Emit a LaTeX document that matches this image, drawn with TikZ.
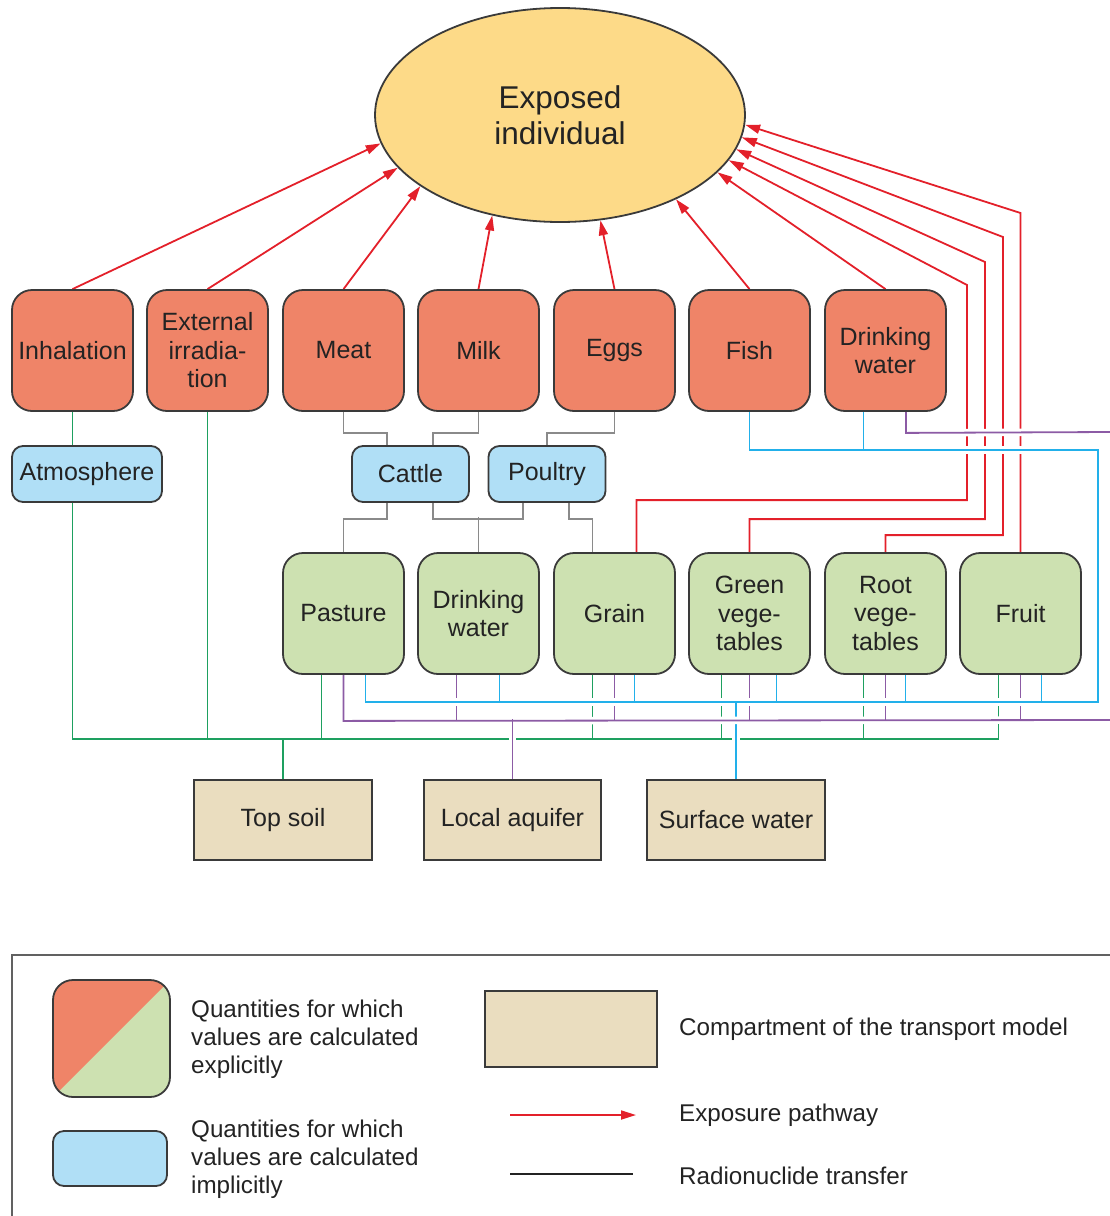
\documentclass[tikz,border=0pt]{standalone}
\usepackage{fontspec}
\setmainfont{Liberation Sans}
\usetikzlibrary{arrows.meta,shapes.geometric}
\definecolor{ellfill}{HTML}{FDDA88}
\definecolor{orfill}{HTML}{EF8468}
\definecolor{blfill}{HTML}{B0DFF6}
\definecolor{grfill}{HTML}{CDE1B1}
\definecolor{tanfill}{HTML}{EADDBF}
\definecolor{bord}{HTML}{3A3A3A}
\definecolor{txt}{HTML}{232323}
\definecolor{redl}{HTML}{E3202A}
\definecolor{grnl}{HTML}{1EA060}
\definecolor{purl}{HTML}{8C5BA5}
\definecolor{blul}{HTML}{22B0EA}
\definecolor{gryl}{HTML}{8A8A8A}
\pgfdeclarelayer{background}
\pgfsetlayers{background,main}
\tikzset{
  boxbase/.style={draw=bord, line width=1.8pt, text=txt, inner sep=0pt, align=center,
    font=\fontsize{25}{28.5}\selectfont},
  bigbox/.style={boxbase, rectangle, rounded corners=20pt, minimum width=121pt, minimum height=121pt},
  explbox/.style={bigbox, fill=orfill},
  cropbox/.style={bigbox, fill=grfill},
  implbox/.style={boxbase, rectangle, rounded corners=11pt, minimum height=56pt, fill=blfill},
  compbox/.style={boxbase, rectangle, fill=tanfill, minimum width=178pt, minimum height=80pt},
  ellnode/.style={boxbase, ellipse, fill=ellfill, minimum width=370pt, minimum height=214pt,
    font=\fontsize{31.5}{36}\selectfont},
  pathw/.style={draw=redl, line width=1.8pt, -{Triangle[length=15pt,width=9pt]}},
  gryline/.style={draw=gryl, line width=1.8pt},
  grnline/.style={draw=grnl, line width=1.8pt},
  purline/.style={draw=purl, line width=1.8pt},
  bluline/.style={draw=blul, line width=1.8pt},
  halo/.style={draw=white, line width=7.5pt},
  legtxt/.style={text=txt, inner sep=0pt, align=left, font=\fontsize{24.2}{28}\selectfont},
  splitbox/.style={boxbase, rectangle, rounded corners=20pt, fill=grfill,
    minimum width=117pt, minimum height=117pt,
    path picture={\fill[orfill, sharp corners] (path picture bounding box.north west) --
      (path picture bounding box.north east) -- (path picture bounding box.south west) -- cycle;}},
}
\newcommand\purplenet[1]{%
  \draw[#1] ([xshift=20.5pt]dw.south) -- ++(0,21) -- (pE1);
  \draw[#1] (pasture.south) -- ++(0,46) -- (pE2);
  \draw[#1] ([xshift=-22pt]dwg.south) -- ++(0,46);
  \draw[#1] (grain.south) -- ++(0,46);
  \draw[#1] (gveg.south) -- ++(0,46);
  \draw[#1] (rveg.south) -- ++(0,46);
  \draw[#1] (fruit.south) -- ++(0,46);
  \draw[#1] (aquifer.north) -- ++(0,-60);
}
\newcommand\bluenet[1]{%
  \draw[#1] (fish.south) |- (1098,450) -- (1098,702) -| ([xshift=22pt]pasture.south);
  \draw[#1] ([xshift=-22pt]dw.south) -- ++(0,39);
  \draw[#1] ([xshift=21pt]dwg.south) -- ++(0,28);
  \draw[#1] ([xshift=20pt]grain.south) -- ++(0,28);
  \draw[#1] ([xshift=27pt]gveg.south) -- ++(0,28);
  \draw[#1] ([xshift=20pt]rveg.south) -- ++(0,28);
  \draw[#1] ([xshift=21pt]fruit.south) -- ++(0,28);
  \draw[#1] (sw.north) ++(0,-78) -- ++(0,9);
}
\begin{document}
\begin{tikzpicture}[x=1pt,y=-1pt]
\useasboundingbox (0,0) rectangle (1110,1216);
% central node
\node[ellnode] (ell) at (560,115) {Exposed\\individual};
% exposure pathways
\node[explbox] (inh)  at (72.5,350.5)  {Inhalation};
\node[explbox] (ext)  at (207.5,350.5) {External\\irradia-\\tion};
\node[explbox] (meat) at (343.5,350.5) {Meat};
\node[explbox] (milk) at (478.5,350.5) {Milk};
\node[explbox] (eggs) at (614.5,350.5) {Eggs};
\node[explbox] (fish) at (749.5,350.5) {Fish};
\node[explbox] (dw)   at (885.5,350.5) {Drinking\\water};
% implicit
\node[implbox, minimum width=150pt] (atm)     at (87,474)    {Atmosphere};
\node[implbox, minimum width=117pt] (cattle)  at (410.5,474) {Cattle};
\node[implbox, minimum width=117pt] (poultry) at (547,474)   {Poultry};
% crops
\node[cropbox] (pasture) at (343.5,613.5)  {Pasture};
\node[cropbox] (dwg)     at (478.5,613.5)  {Drinking\\water};
\node[cropbox] (grain)   at (614.5,613.5)  {Grain};
\node[cropbox] (gveg)    at (749.5,613.5)  {Green\\vege-\\tables};
\node[cropbox] (rveg)    at (885.5,613.5)  {Root\\vege-\\tables};
\node[cropbox] (fruit)   at (1020.5,613.5) {Fruit};
% compartments
\node[compbox] (topsoil) at (283,820)   {Top soil};
\node[compbox, minimum width=177pt] (aquifer) at (512.5,820) {Local aquifer};
\node[compbox] (sw)      at (736,820)   {Surface water};
\coordinate (pE1) at (1110,432);
\coordinate (pE2) at (1110,720);

\begin{pgfonlayer}{background}
% exposure pathways into the individual
\draw[pathw] (inh.north)  -- (ell.189.6);
\draw[pathw] (ext.north)  -- (ell.198.0);
\draw[pathw] (meat.north) -- (ell.207.9);
\draw[pathw] (milk.north) -- (ell.236.0);
\draw[pathw] (eggs.north) -- (ell.291.9);
\draw[pathw] (fish.north) -- (ell.324.5);
\draw[pathw] (dw.north)   -- (ell.340.4);
\draw[pathw] ([xshift=22pt]grain.north) -- ++(0,-52) -| (967,285) -- (ell.345.1);
\draw[pathw] (gveg.north) -- ++(0,-33) -| (985,262) -- (ell.349.5);
\draw[pathw] (rveg.north) -- ++(0,-17) -| (1003,237) -- (ell.353.5);
\draw[pathw] (fruit.north) -- (fruit.north |- 0,213) -- (ell.357.8);
% livestock transfer
\draw[gryline] (meat.south) -- ++(0,21) -| ([xshift=-23.5pt]cattle.north);
\draw[gryline] (milk.south) -- ++(0,21) -| ([xshift=22.5pt]cattle.north);
\draw[gryline] (eggs.south) -- ++(0,21) -| (poultry.north);
\draw[gryline] ([xshift=-23.5pt]cattle.south) -- ++(0,16) -| (pasture.north);
\draw[gryline] ([xshift=22.5pt]cattle.south) -- ++(0,16) -| ([xshift=-24pt]poultry.south);
\draw[gryline] (dwg.north) -- ++(0,-35);
\draw[gryline] ([xshift=22pt]poultry.south) -- ++(0,16) -| ([xshift=-22pt]grain.north);
% soil transfer
\draw[grnline] (inh.south) -- (inh.south |- atm.north);
\draw[grnline] (inh.south |- atm.south) -- (inh.south |- 0,739) -| ([xshift=-22pt]fruit.south);
\draw[grnline] (ext.south) -- (ext.south |- 0,739);
\draw[grnline] (topsoil.north) -- (topsoil.north |- 0,739);
\draw[grnline] ([xshift=-22pt]pasture.south) -- ++(0,65);
\draw[grnline] ([xshift=-22pt]grain.south) -- ++(0,65);
\draw[grnline] ([xshift=-28pt]gveg.south) -- ++(0,65);
\draw[grnline] ([xshift=-22pt]rveg.south) -- ++(0,65);
% surface water riser
\draw[halo] (sw.north) -- ++(0,-78);
\draw[bluline] (sw.north) -- ++(0,-78);
% aquifer transfer
\purplenet{halo}
\purplenet{purline}
% surface water transfer
\bluenet{halo}
\bluenet{bluline}
\end{pgfonlayer}

% legend
\coordinate (lf1) at (12,1216);
\coordinate (lf2) at (12,955);
\coordinate (lf3) at (1110,955);
\draw[draw=bord!80, line width=1.5pt] (lf1) -- (lf2) -- (lf3);
\node[splitbox] (lgexp) at (111.5,1038.5) {};
\node[implbox, minimum width=114pt, minimum height=55pt] (lgimp) at (110,1158.5) {};
\node[compbox, minimum width=172pt, minimum height=76pt] (lgcomp) at (571,1029) {};
\node[legtxt, anchor=west] (lt1) at (191,1039) {Quantities for which\\values are calculated\\explicitly};
\node[legtxt, anchor=west] (lt2) at (191,1159) {Quantities for which\\values are calculated\\implicitly};
\node[legtxt, anchor=west] (lt3) at (679,1029) {Compartment of the transport model};
\node[legtxt, anchor=west] (lt4) at (679,1115) {Exposure pathway};
\node[legtxt, anchor=west] (lt5) at (679,1176) {Radionuclide transfer};
\coordinate (la1) at (510,1115);
\coordinate (la2) at (636,1115);
\draw[pathw] (la1) -- (la2);
\coordinate (lb1) at (510,1174);
\coordinate (lb2) at (633,1174);
\draw[draw=txt, line width=1.6pt] (lb1) -- (lb2);
\end{tikzpicture}
\end{document}
